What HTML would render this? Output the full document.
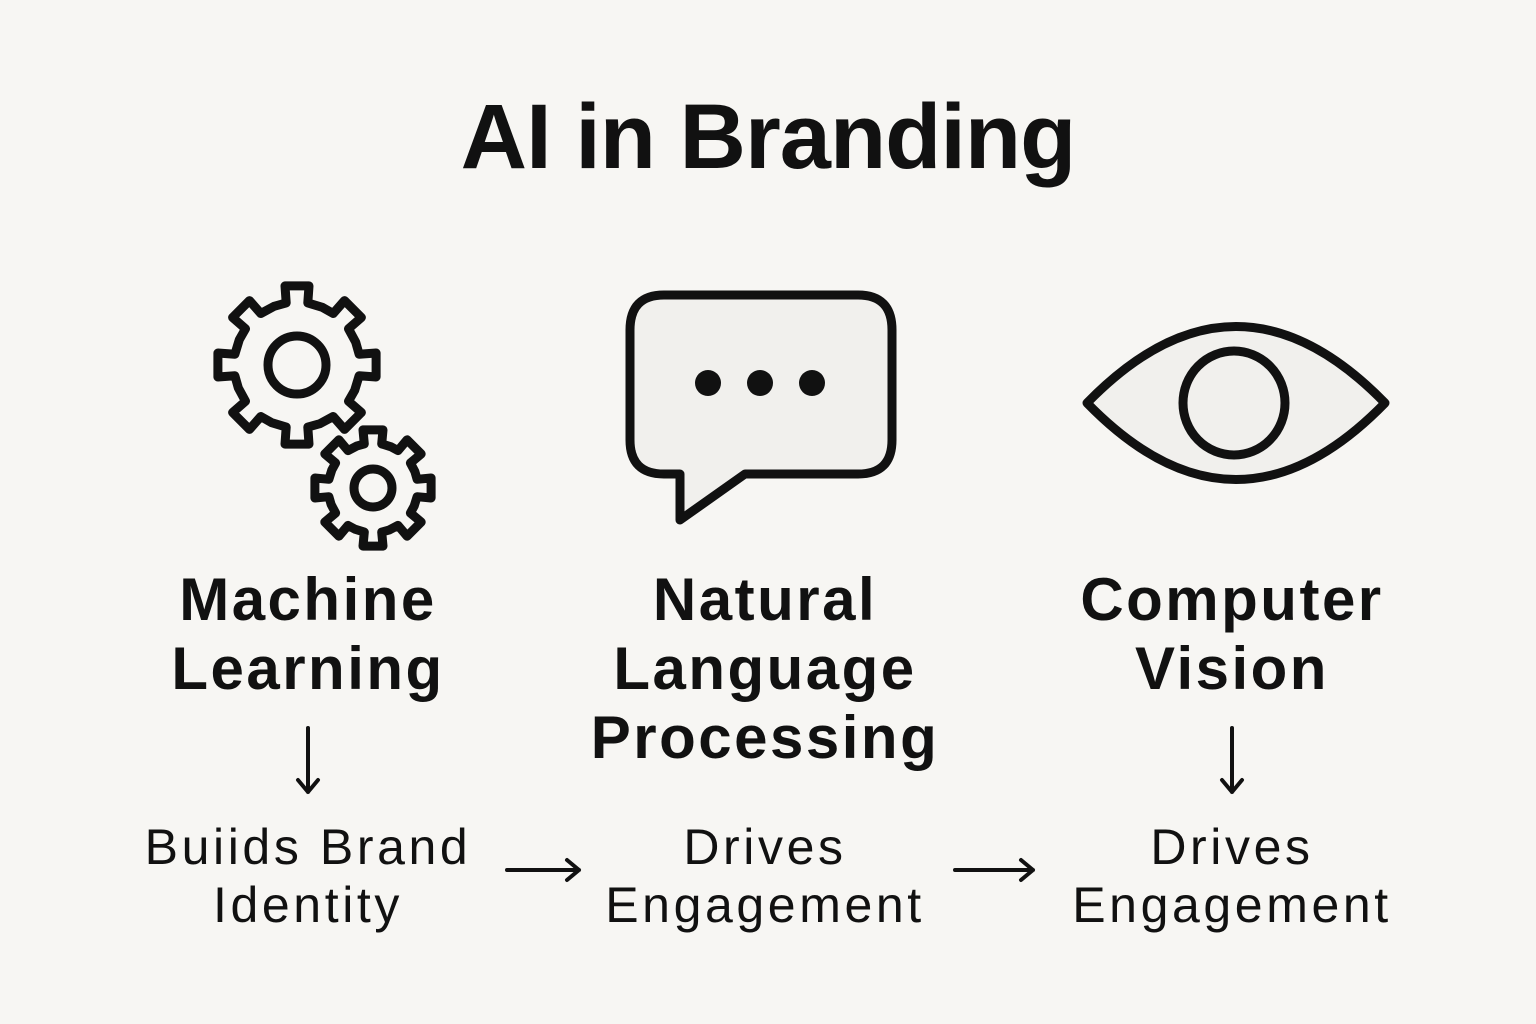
<!DOCTYPE html>
<html><head><meta charset="utf-8"><style>
html,body{margin:0;padding:0}
body{width:1536px;height:1024px;background:#f7f6f3;position:relative;overflow:hidden;font-family:"Liberation Sans","DejaVu Sans",sans-serif;color:#111}
.t{position:absolute;text-align:center;white-space:nowrap;transform:translateX(-50%)}
.title{left:768px;top:82px;font-size:92px;font-weight:bold;line-height:110px;letter-spacing:-1px}
.h{font-size:60px;font-weight:bold;line-height:69px;top:565px;letter-spacing:2.5px}
.s{font-size:50px;line-height:58px;top:818px;letter-spacing:3.6px}
svg{position:absolute;left:0;top:0}
</style></head><body>
<svg width="1536" height="1024" viewBox="0 0 1536 1024">
<g fill="none" stroke="#111" stroke-width="9" stroke-linejoin="round" stroke-linecap="round">
<path id="g1"/><path id="g2"/>
<circle cx="297" cy="365" r="29"/>
<circle cx="373" cy="488" r="19"/>
<path d="M664 295 H858 Q892 295 892 330 V440 Q892 474 858 474 H745 L680 520 V474 H664 Q630 474 630 440 V330 Q630 295 664 295 Z" fill="#f1f0ed"/>
<path d="M1087 403 Q1236 250 1385 403 Q1236 556 1087 403 Z" fill="#f1f0ed"/>
<ellipse cx="1234" cy="403" rx="51" ry="52"/>
</g>
<g fill="none" stroke="#111" stroke-width="4" stroke-linejoin="round" stroke-linecap="round">
<path d="M308 728 V792 M298 780 L308 792 L318 780"/>
<path d="M1232 728 V792 M1222 780 L1232 792 L1242 780"/>
<path d="M507 870 H579 M567 860 L579 870 L567 880"/>
<path d="M955 870 H1033 M1021 860 L1033 870 L1021 880"/>
</g>
<g fill="#111"><circle cx="708" cy="383" r="13"/><circle cx="760" cy="383" r="13"/><circle cx="812" cy="383" r="13"/></g>
</svg>
<div class="t title">AI in Branding</div>
<div class="t h" style="left:308px">Machine<br>Learning</div>
<div class="t h" style="left:765px">Natural<br>Language<br>Processing</div>
<div class="t h" style="left:1232px">Computer<br>Vision</div>
<div class="t s" style="left:308px">Buiids Brand<br>Identity</div>
<div class="t s" style="left:765px">Drives<br>Engagement</div>
<div class="t s" style="left:1232px">Drives<br>Engagement</div>
<script>
function gear(cx,cy,ro,ri,n,tw){var d="",step=2*Math.PI/n;for(var i=0;i<n;i++){var a=-Math.PI/2+i*step;var pts=[[ri,a-step/2+0.02],[ri,a-tw*1.15],[ro,a-tw],[ro,a+tw],[ri,a+tw*1.15]];pts.forEach(function(p,j){var x=cx+p[0]*Math.cos(p[1]),y=cy+p[0]*Math.sin(p[1]);d+=(i==0&&j==0?"M":"L")+x.toFixed(1)+" "+y.toFixed(1)+" ";});}return d+"Z";}
document.getElementById("g1").setAttribute("d",gear(297,365,80,63,8,0.15));
document.getElementById("g2").setAttribute("d",gear(373,488,59,45,8,0.17));
</script>
</body></html>
